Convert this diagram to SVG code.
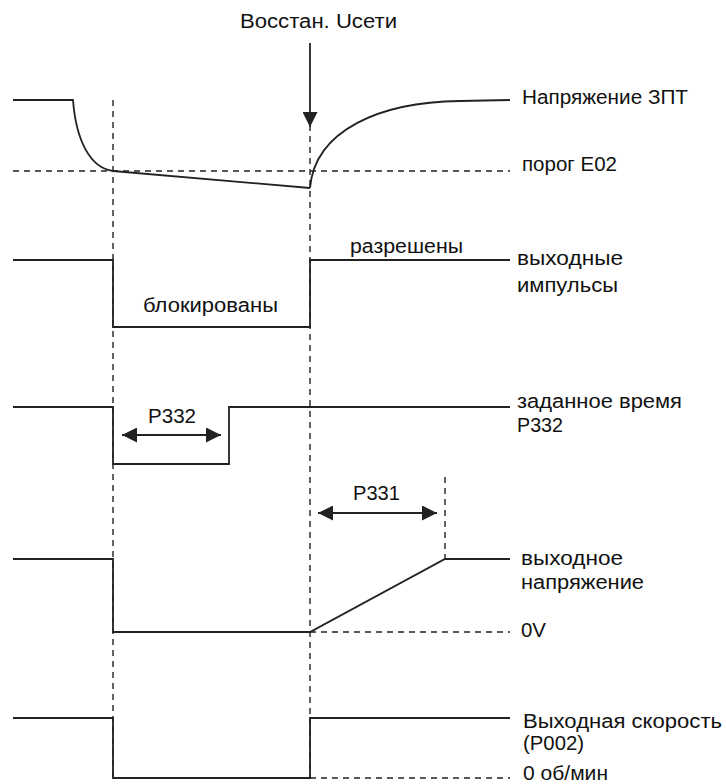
<svg xmlns="http://www.w3.org/2000/svg" width="726" height="784" viewBox="0 0 726 784">
<style>
.s{fill:none;stroke:#222;stroke-width:1.8}
.d{fill:none;stroke:#222;stroke-width:1.4;stroke-dasharray:6,5}
text{font-family:"Liberation Sans",Arial,sans-serif;font-size:20px;fill:#111}
</style>
<defs>
<marker id="ah" viewBox="0 0 10 10" refX="10" refY="5" markerWidth="15" markerHeight="15" markerUnits="userSpaceOnUse" orient="auto-start-reverse"><path d="M0,0 L10,5 L0,10 z" fill="#222"/></marker>
</defs>
<rect width="726" height="784" fill="#fff"/>
<g id="connectors">
<path class="d" d="M113,100 V778"/>
<path class="d" d="M310,125 V778"/>
<path class="d" d="M13,171 H510"/>
<path class="d" d="M310,632 H510"/>
<path class="d" d="M310,778 H510"/>
<path class="d" d="M445,477 V559"/>
<path class="s" d="M310,43 V127" marker-end="url(#ah)"/>
<path class="s" d="M122,435 H221" marker-start="url(#ah)" marker-end="url(#ah)"/>
<path class="s" d="M318,513 H437" marker-start="url(#ah)" marker-end="url(#ah)"/>
</g>
<g id="dc-voltage">
<path class="s" d="M13,100 H73 C76,140 90,168 113,171 L310,188"/>
<path class="s" d="M310,188 C315,130 380,102 460,101 L510,100"/>
<text x="522" y="104" textLength="166" lengthAdjust="spacingAndGlyphs">Напряжение ЗПТ</text>
<text x="522" y="171" textLength="95" lengthAdjust="spacingAndGlyphs">порог E02</text>
<text x="240" y="28" textLength="157" lengthAdjust="spacingAndGlyphs">Восстан. Uсети</text>
</g>
<g id="pulses">
<path class="s" d="M13,260 H113 V327 H310 V260 H510"/>
<text x="350" y="253" textLength="113" lengthAdjust="spacingAndGlyphs">разрешены</text>
<text x="143" y="312" textLength="135" lengthAdjust="spacingAndGlyphs">блокированы</text>
<text x="517" y="265" textLength="106" lengthAdjust="spacingAndGlyphs">выходные</text>
<text x="517" y="292" textLength="101" lengthAdjust="spacingAndGlyphs">импульсы</text>
</g>
<g id="set-time">
<path class="s" d="M13,407 H113 V464 H229 V407 H510"/>
<text x="148" y="423" textLength="48" lengthAdjust="spacingAndGlyphs">P332</text>
<text x="517" y="408" textLength="165" lengthAdjust="spacingAndGlyphs">заданное время</text>
<text x="517" y="432" textLength="46" lengthAdjust="spacingAndGlyphs">P332</text>
</g>
<g id="output-voltage">
<path class="s" d="M13,559 H113 V632 H310 L445,559 H510"/>
<text x="353" y="500" textLength="47" lengthAdjust="spacingAndGlyphs">P331</text>
<text x="521" y="565" textLength="102" lengthAdjust="spacingAndGlyphs">выходное</text>
<text x="521" y="589" textLength="123" lengthAdjust="spacingAndGlyphs">напряжение</text>
<text x="521" y="637" textLength="25" lengthAdjust="spacingAndGlyphs">0V</text>
</g>
<g id="output-speed">
<path class="s" d="M13,718 H113 V778 H310 V718 H510"/>
<text x="523" y="728" textLength="199" lengthAdjust="spacingAndGlyphs">Выходная скорость</text>
<text x="523" y="750" textLength="61" lengthAdjust="spacingAndGlyphs">(P002)</text>
<text x="523" y="780" textLength="85" lengthAdjust="spacingAndGlyphs">0 об/мин</text>
</g>
</svg>
